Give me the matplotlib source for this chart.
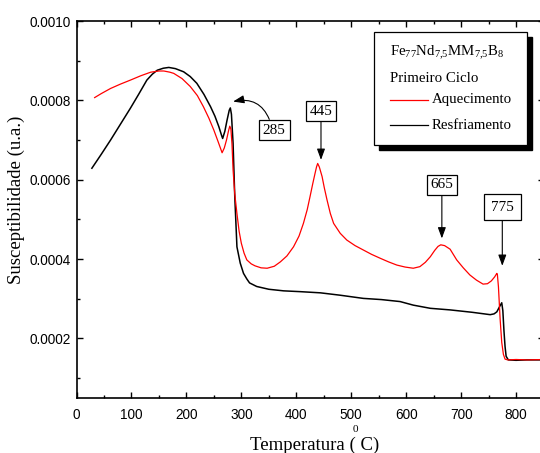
import matplotlib
matplotlib.use('Agg')
import matplotlib.pyplot as plt
from matplotlib.ticker import MultipleLocator, FormatStrFormatter
from matplotlib.patches import Rectangle
from matplotlib.lines import Line2D

plt.rcParams['mathtext.fontset'] = 'custom'
plt.rcParams['mathtext.rm'] = 'Liberation Serif'
plt.rcParams['mathtext.it'] = 'Liberation Serif:italic'

SERIF = 'Liberation Serif'
SANS = 'Liberation Sans'

# primeiro ciclo - aquecimento
temp_heat = [33, 45, 62, 80, 98, 117, 135, 150, 159, 170, 177, 192, 207, 220,
             231, 241, 250, 258, 265, 269, 273, 277, 279, 281, 283, 285, 288,
             292, 296, 300, 305, 310, 318, 325, 336, 347, 360, 371, 383, 395,
             405, 413, 420, 425, 430, 434, 437, 439, 442, 447, 451, 456, 462,
             468, 480, 492, 507, 522, 537, 553, 568, 583, 598, 613, 625, 635,
             644, 652, 658, 663, 670, 680, 692, 704, 716, 728, 740, 748, 755,
             761, 765, 766, 768, 771, 774, 777, 780, 785, 800, 820, 850]
susc_heat = [0.000807, 0.000817, 0.000830, 0.000841, 0.000851, 0.000862,
             0.000871, 0.000874, 0.000874, 0.000871, 0.000868, 0.000855,
             0.000835, 0.000812, 0.000784, 0.000755, 0.000725, 0.000695,
             0.000668, 0.000680, 0.000700, 0.000725, 0.000735, 0.000728,
             0.000690, 0.000625, 0.000565, 0.000515, 0.000470, 0.000440,
             0.000415, 0.000398, 0.000388, 0.000383, 0.000378, 0.000377,
             0.000382, 0.000393, 0.000408, 0.000431, 0.000458, 0.000490,
             0.000525, 0.000557, 0.000590, 0.000615, 0.000633, 0.000641,
             0.000632, 0.000608, 0.000580, 0.000549, 0.000515, 0.000490,
             0.000465, 0.000448, 0.000434, 0.000423, 0.000412, 0.000402,
             0.000393, 0.000385, 0.000380, 0.000377, 0.000381, 0.000392,
             0.000406, 0.000422, 0.000432, 0.000436, 0.000434, 0.000425,
             0.000398, 0.000378, 0.000360, 0.000347, 0.000337, 0.000338,
             0.000345, 0.000355, 0.000364, 0.000362, 0.000330, 0.000250,
             0.000190, 0.000160, 0.000148, 0.000146, 0.000147, 0.000146,
             0.000147]

# primeiro ciclo - resfriamento
temp_cool = [28, 45, 62, 80, 98, 113, 128, 138, 147, 158, 168, 180, 195, 207,
             219, 232, 244, 252, 259, 264, 266, 270, 274, 278, 280, 282, 285,
             288, 292, 298, 304, 310, 315, 328, 350, 377, 407, 444, 480, 522,
             555, 589, 613, 644, 680, 720, 753, 760, 765, 770, 774, 776, 778,
             780, 782, 786, 800, 820, 850]
susc_cool = [0.000629, 0.000664, 0.000700, 0.000740, 0.000780, 0.000815,
             0.000851, 0.000866, 0.000876, 0.000881, 0.000883, 0.000880,
             0.000872, 0.000860, 0.000843, 0.000815, 0.000784, 0.000760,
             0.000734, 0.000712, 0.000704, 0.000722, 0.000750, 0.000775,
             0.000781, 0.000765, 0.000692, 0.000560, 0.000431, 0.000390,
             0.000364, 0.000350, 0.000340, 0.000331, 0.000324, 0.000320,
             0.000318, 0.000315, 0.000309, 0.000301, 0.000298, 0.000293,
             0.000284, 0.000276, 0.000272, 0.000266, 0.000260, 0.000262,
             0.000267, 0.000280, 0.000290, 0.000270, 0.000220, 0.000180,
             0.000155, 0.000146, 0.000145, 0.000146, 0.000146]

# picos marcados (temperatura, ponta da seta, posicao da caixa)
peak_temps = [285, 445, 665, 775]
peak_tip = [0.000797, 0.000650, 0.000452, 0.000383]
box_x = [360, 445, 665, 775]
box_y = [0.000725, 0.000773, 0.000587, 0.000531]
box_pad = [0.25, 0.25, 0.25, 0.45]

fig = plt.figure(figsize=(5.4, 4.53), dpi=100)
ax = fig.add_axes([76.5 / 540, 1 - 398 / 453, 467 / 540, 377 / 453])

ax.plot(temp_heat, susc_heat, color='#ff0000', lw=0.9, zorder=3)
ax.plot(temp_cool, susc_cool, color='black', lw=1.1, zorder=2)

ax.set_xlim(0, 850)
ax.set_ylim(0.00005, 0.0010)
ax.xaxis.set_major_locator(MultipleLocator(100))
ax.xaxis.set_minor_locator(MultipleLocator(50))
ax.yaxis.set_major_locator(MultipleLocator(0.0002))
ax.yaxis.set_minor_locator(MultipleLocator(0.0001))
ax.yaxis.set_major_formatter(FormatStrFormatter('%.4f'))
ax.tick_params(which='both', direction='in', top=True, right=True, width=1.0)
ax.tick_params(which='major', length=4.5)
ax.tick_params(which='minor', length=2.3)
ax.tick_params(axis='x', pad=7)
ax.tick_params(axis='y', pad=4)
for lab in ax.get_xticklabels() + ax.get_yticklabels():
    lab.set_fontfamily(SANS)
    lab.set_fontsize(9.8)
for sp in ax.spines.values():
    sp.set_linewidth(1.2)

ax.set_ylabel('Susceptibilidade (u.a.)', fontfamily=SERIF, fontsize=13.5)
ax.yaxis.set_label_coords(-0.11, 0.525)
fig.text(314.7 / 540, 1 - 445 / 453, 'Temperatura ( C)', fontfamily=SERIF,
         fontsize=13.5, ha='center', va='center')
fig.text(355 / 540, 1 - 430 / 453, '0', fontfamily=SERIF, fontsize=8,
         ha='center', va='center')

# caixas com setas nos picos
for i, t in enumerate(peak_temps):
    if i == 0:
        arrow = dict(arrowstyle='-|>,head_length=0.6,head_width=0.22',
                     color='black', lw=0.8, relpos=(0.35, 1.0),
                     connectionstyle='arc3,rad=0.45', shrinkA=0, shrinkB=0)
    else:
        arrow = dict(arrowstyle='-|>,head_length=0.6,head_width=0.22',
                     color='black', lw=0.8, shrinkA=0, shrinkB=0)
    ax.annotate(str(t), xy=(t, peak_tip[i]), xytext=(box_x[i], box_y[i]),
                ha='center', va='center', fontfamily=SERIF, fontsize=11,
                bbox=dict(boxstyle='square,pad=%s' % box_pad[i], fc='white',
                          ec='black', lw=0.9),
                arrowprops=arrow, zorder=5)

# legenda com sombra
lx0, ly0, lw_, lh = 0.637, 0.671, 0.327, 0.3005
ax.add_patch(Rectangle((lx0 + 0.0107, ly0 - 0.0133), lw_, lh, fc='black',
                       ec='black', transform=ax.transAxes, zorder=6,
                       clip_on=False))
ax.add_patch(Rectangle((lx0, ly0), lw_, lh, fc='white', ec='black', lw=0.9,
                       transform=ax.transAxes, zorder=7, clip_on=False))
ax.text(0.6713, 0.9143,
        r'Fe$_{77}$Nd$_{7{,}5}$MM$_{7{,}5}$B$_{8}$', transform=ax.transAxes,
        fontfamily=SERIF, fontsize=10.7, va='center', zorder=8)
ax.text(0.6713, 0.848, 'Primeiro Ciclo', transform=ax.transAxes,
        fontfamily=SERIF, fontsize=10.7, va='center', zorder=8)
for yy, col, name in [(0.7905, '#ff0000', 'Aquecimento'),
                      (0.7241, 'black', 'Resfriamento')]:
    ax.add_line(Line2D([0.6713, 0.7533], [yy, yy], color=col, lw=0.9,
                       transform=ax.transAxes, zorder=8))
    ax.text(0.7606, yy, name, transform=ax.transAxes, fontfamily=SERIF,
            fontsize=10.7, va='center', zorder=8)

fig.savefig('out.png', dpi=100)
